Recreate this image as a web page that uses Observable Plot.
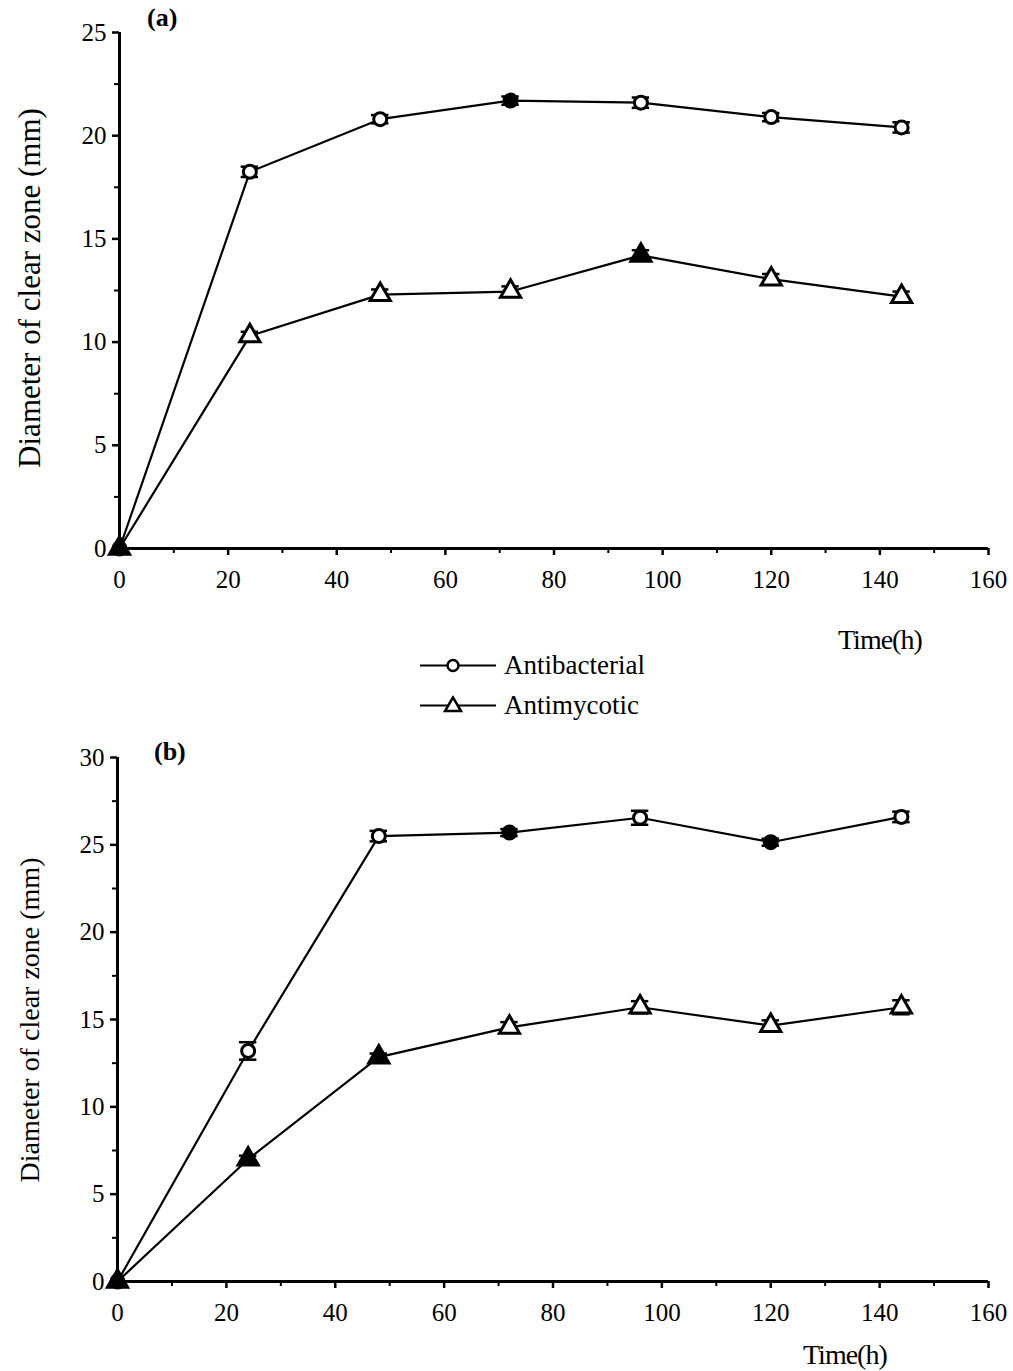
<!DOCTYPE html>
<html>
<head>
<meta charset="utf-8">
<script src="https://cdn.jsdelivr.net/npm/d3@7"></script>
<script src="https://cdn.jsdelivr.net/npm/@observablehq/plot@0.6"></script>
<style>
  body { margin: 0; background: #fff; }
  #wrap { position: relative; width: 1013px; height: 1371px; font-family: "Liberation Serif", "Times New Roman", serif; color: #000; }
  .abs { position: absolute; white-space: nowrap; }
  .ylab { transform: translate(-50%, -50%) rotate(-90deg); }
  .tlab { font-size: 28px; letter-spacing: -1px; transform: translateY(-50%); }
  .plab { font-size: 26px; font-weight: bold; transform: translateY(-50%); }
  .leg { font-size: 27px; display: flex; align-items: center; transform: translateY(-50%); }
  .leg svg { margin-right: 8px; }
  .plot { position: absolute; left: 0; }
  svg.plot g[aria-label="y-axis tick label"] text,
  svg.plot g[aria-label="x-axis tick label"] text { font-size: 25px; }
</style>
</head>
<body>
<div id="wrap"></div>
<script>
// ---- data ----
const times = [0, 24, 48, 72, 96, 120, 144];
const seriesNames = ["Antibacterial", "Antimycotic"];

// Panel (a)
const aBact    = [0, 18.25, 20.8, 21.7, 21.6, 20.9, 20.4];
const aBactErr = [0, 0.25, 0.2, 0.2, 0.25, 0.2, 0.25];
const aBactFilled = [1, 0, 0, 1, 0, 0, 0];
const aMyco    = [0, 10.3, 12.3, 12.45, 14.2, 13.05, 12.2];
const aMycoErr = [0, 0.2, 0.25, 0.25, 0.25, 0.25, 0.25];
const aMycoFilled = [1, 0, 0, 0, 1, 0, 0];

// Panel (b)
const bBact    = [0, 13.2, 25.5, 25.7, 26.55, 25.15, 26.6];
const bBactErr = [0, 0.5, 0.3, 0.2, 0.4, 0.2, 0.3];
const bBactFilled = [1, 0, 0, 1, 0, 1, 0];
const bMyco    = [0, 7.0, 12.85, 14.55, 15.7, 14.65, 15.7];
const bMycoErr = [0, 0.2, 0.2, 0.3, 0.35, 0.3, 0.4];
const bMycoFilled = [1, 1, 1, 0, 0, 0, 0];

const xTicks = [0, 20, 40, 60, 80, 100, 120, 140, 160];
const xMinor = [10, 30, 50, 70, 90, 110, 130, 150];

function rows(vals, errs, filled, series) {
  return times.map((t, i) => ({t, v: vals[i], e: errs[i], filled: !!filled[i], series}));
}

function panel({bact, myco, yMax, yTicks, yMinor, top, marginLeft}) {
  const marginBottom = 50;
  const data = [...bact, ...myco];
  const errData = data.filter(d => d.e > 0);
  const capHalf = 1.6;
  const p = Plot.plot({
    width: 1013,
    height: top.height,
    marginLeft,
    marginRight: 25,
    marginTop: top.marginTop,
    marginBottom,
    style: {fontFamily: "'Liberation Serif', 'Times New Roman', serif", fontSize: "25px", color: "#000", background: "transparent", overflow: "visible"},
    x: {domain: [0, 160]},
    y: {domain: [0, yMax]},
    marks: [
      Plot.axisX({ticks: xTicks, tickSize: 7, tickPadding: 15, strokeWidth: 2.5, label: null}),
      Plot.axisX({ticks: xMinor, tickSize: 5, text: null, strokeWidth: 2, label: null}),
      Plot.axisY({ticks: yTicks, tickSize: 7, tickPadding: 6, strokeWidth: 2.5, label: null}),
      Plot.axisY({ticks: yMinor, tickSize: 5, text: null, strokeWidth: 2, label: null}),
      Plot.ruleY([0], {strokeWidth: 3}),
      Plot.ruleX([0], {strokeWidth: 3}),
      Plot.line(bact, {x: "t", y: "v", stroke: "#000", strokeWidth: 2.2}),
      Plot.line(myco, {x: "t", y: "v", stroke: "#000", strokeWidth: 2.2}),
      Plot.ruleX(errData, {x: "t", y1: d => d.v - d.e, y2: d => d.v + d.e, stroke: "#000", strokeWidth: 2.5}),
      Plot.ruleY(errData, {y: d => d.v + d.e, x1: d => d.t - capHalf, x2: d => d.t + capHalf, stroke: "#000", strokeWidth: 2.5}),
      Plot.ruleY(errData, {y: d => d.v - d.e, x1: d => d.t - capHalf, x2: d => d.t + capHalf, stroke: "#000", strokeWidth: 2.5}),
      Plot.dot(bact, {x: "t", y: "v", symbol: "circle", r: 6.5, stroke: "#000", strokeWidth: 3, fill: d => d.filled ? "#000" : "#fff"}),
      Plot.dot(myco, {x: "t", y: "v", symbol: "triangle", r: 7.5, stroke: "#000", strokeWidth: 3, fill: d => d.filled ? "#000" : "#fff"})
    ]
  });
  p.classList.add("plot");
  p.style.top = top.y + "px";
  return p;
}

const wrap = document.getElementById("wrap");

wrap.appendChild(panel({
  bact: rows(aBact, aBactErr, aBactFilled, seriesNames[0]),
  myco: rows(aMyco, aMycoErr, aMycoFilled, seriesNames[1]),
  yMax: 25, yTicks: [0, 5, 10, 15, 20, 25], yMinor: [2.5, 7.5, 12.5, 17.5, 22.5],
  top: {y: 0, height: 598, marginTop: 32}, marginLeft: 119
}));

wrap.appendChild(panel({
  bact: rows(bBact, bBactErr, bBactFilled, seriesNames[0]),
  myco: rows(bMyco, bMycoErr, bMycoFilled, seriesNames[1]),
  yMax: 30, yTicks: [0, 5, 10, 15, 20, 25, 30], yMinor: [2.5, 7.5, 12.5, 17.5, 22.5, 27.5],
  top: {y: 730, height: 601, marginTop: 27}, marginLeft: 117
}));

function addText(cls, text, left, top, size) {
  const d = document.createElement("div");
  d.className = "abs " + cls;
  d.textContent = text;
  d.style.left = left + "px";
  d.style.top = top + "px";
  if (size) d.style.fontSize = size + "px";
  wrap.appendChild(d);
  return d;
}

addText("ylab", "Diameter of clear zone (mm)", 30, 288, 31);
addText("ylab", "Diameter of clear zone (mm)", 30, 1020, 28);
addText("tlab", "Time(h)", 838, 640);
addText("tlab", "Time(h)", 803, 1355);
addText("plab", "(a)", 147, 18);
addText("plab", "(b)", 154, 752);

// legend
function legendRow(name, symbol, y) {
  const d = document.createElement("div");
  d.className = "abs leg";
  d.style.left = "420px";
  d.style.top = y + "px";
  const ns = "http://www.w3.org/2000/svg";
  const svg = document.createElementNS(ns, "svg");
  svg.setAttribute("width", 76); svg.setAttribute("height", 20);
  const line = document.createElementNS(ns, "line");
  line.setAttribute("x1", 0); line.setAttribute("x2", 76);
  line.setAttribute("y1", 10); line.setAttribute("y2", 10);
  line.setAttribute("stroke", "#000"); line.setAttribute("stroke-width", 2);
  svg.appendChild(line);
  const path = document.createElementNS(ns, "path");
  path.setAttribute("d", d3.symbol(symbol === "circle" ? d3.symbolCircle : d3.symbolTriangle, symbol === "circle" ? 95 : 110)());
  path.setAttribute("transform", symbol === "circle" ? "translate(33,10)" : "translate(33,11)");
  path.setAttribute("fill", "#fff"); path.setAttribute("stroke", "#000"); path.setAttribute("stroke-width", 2.5);
  svg.appendChild(path);
  d.appendChild(svg);
  const s = document.createElement("span");
  s.textContent = name;
  d.appendChild(s);
  wrap.appendChild(d);
}
legendRow(seriesNames[0], "circle", 665);
legendRow(seriesNames[1], "triangle", 705);
</script>
</body>
</html>
